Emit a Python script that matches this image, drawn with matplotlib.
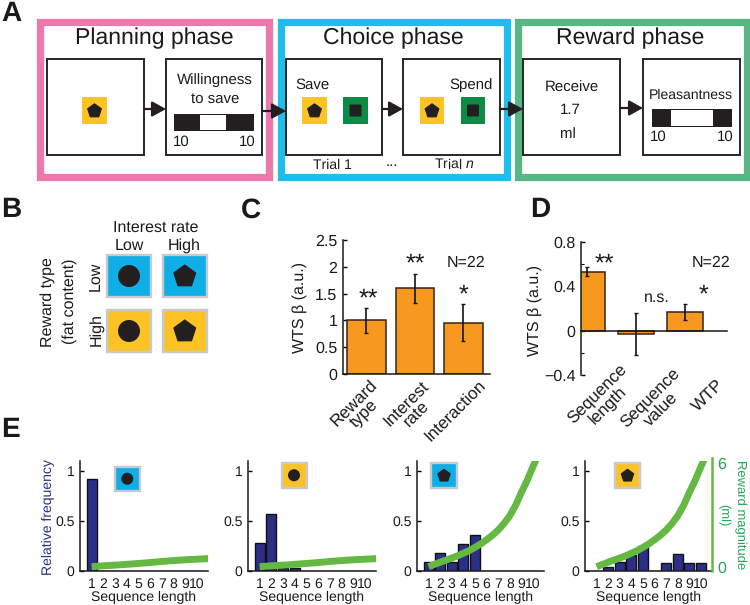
#!/usr/bin/env python3
"""Task schematic, regression betas and sequence-length histograms."""
import matplotlib
matplotlib.use("Agg")
import matplotlib.pyplot as plt
from matplotlib.patches import Rectangle, RegularPolygon, Circle, FancyBboxPatch

plt.rcParams.update({
    "font.family": ["Liberation Sans", "DejaVu Sans"],
    "mathtext.fontset": "custom",
    "mathtext.it": "Liberation Sans:italic",
    "mathtext.rm": "Liberation Sans",
    "text.hinting": "no_hinting",
    "text.hinting_factor": 1,
})

INK = "#231f20"
PINK = "#ee77ad"
SKY = "#1fbcee"
SEA = "#56b684"
YELLOW = "#fdc224"
BLUE = "#0eaee6"
DARKGREEN = "#0b8c44"
GREY = "#c6c9cf"
ORANGE = "#f7991f"
NAVY = "#2b2f86"
CURVE = "#65b943"
LABELGREEN = "#1fa652"

# panel C
c_labels = ["Reward\ntype", "Interest\nrate", "Interaction"]
c_values = [1.0, 1.6, 0.96]
c_err = [0.23, 0.27, 0.34]

# panel D
d_labels = ["Sequence\nlength", "Sequence\nvalue", "WTP"]
d_values = [0.53, -0.03, 0.17]
d_err = [0.04, 0.19, 0.075]

# panel E
seq_len = [1, 2, 3, 4, 5, 6, 7, 8, 9, 10]
freq_low_low = [0.92, 0, 0, 0, 0, 0, 0, 0, 0, 0]
freq_high_low = [0.28, 0.57, 0.03, 0.03, 0, 0, 0, 0, 0, 0]
freq_low_high = [0.09, 0.18, 0.09, 0.27, 0.36, 0, 0, 0, 0, 0]
freq_high_high = [0, 0.04, 0.09, 0.16, 0.25, 0, 0.08, 0.17, 0.08, 0.08]

# reward magnitude curves (ml)
curve_x_low = [1.0, 2.0, 3.0, 4.5, 6.0, 7.5, 9.0, 11.0]
curve_y_low = [0.0, 0.05, 0.09, 0.16, 0.24, 0.33, 0.40, 0.47]
curve_x_high = [1.0, 1.5, 2.0, 2.5, 3.0, 3.5, 4.0, 4.5, 5.0, 5.5, 6.0, 6.5, 7.0,
                7.5, 8.0, 8.5, 9.0, 9.5, 10.0, 10.3]
curve_y_high = [0.0, 0.13, 0.26, 0.38, 0.5, 0.63, 0.78, 0.93, 1.12, 1.32, 1.56, 1.82, 2.12,
                2.5, 2.95, 3.55, 4.3, 5.0, 5.8, 6.25]

fig = plt.figure(figsize=(7.5, 6.05), dpi=100)
bg = fig.add_axes([0, 0, 1, 1])
bg.set_xlim(0, 750)
bg.set_ylim(605, 0)
bg.axis("off")


def px_axes(left, top, right, bottom):
    ax = fig.add_axes([left / 750, 1 - bottom / 605, (right - left) / 750, (bottom - top) / 605])
    ax.patch.set_alpha(0)
    return ax


def rect(x0, y0, x1, y1, **kw):
    bg.add_patch(Rectangle((x0, y0), x1 - x0, y1 - y0, **kw))


def label(x, y, s, size=11, **kw):
    kw.setdefault("ha", "center")
    kw.setdefault("va", "center")
    kw.setdefault("color", "#1a1a1a")
    bg.text(x, y, s, fontsize=size, **kw)


def slanted(x, y, s):
    # bar names: anchor is the top right corner of the rotated block
    bg.text(x, y, s, fontsize=12.3, rotation=45, ha="right", va="top", ma="center",
            rotation_mode="anchor", linespacing=0.92, color="#1a1a1a")


def star(x, y, s):
    # the asterisk sits high in its line, so anchor on the baseline
    bg.text(x, y + 12, s, fontsize=18, ha="center", va="baseline", color="#1a1a1a")


def stim(x0, y0, x1, y1, color, shape, r, border=None):
    if border:
        rect(x0 - 1.5, y0 - 1.5, x1 + 1.5, y1 + 1.5, fc=color, ec=border, lw=1.7)
    else:
        rect(x0, y0, x1, y1, fc=color, ec="none")
    cx, cy = (x0 + x1) / 2, (y0 + y1) / 2
    if shape == "pent":
        bg.add_patch(RegularPolygon((cx, cy + 0.5), 5, radius=r, orientation=3.14159,
                                    fc=INK, ec=INK, lw=0.8, joinstyle="round"))
    elif shape == "circ":
        bg.add_patch(Circle((cx, cy), r, fc=INK, ec="none"))
    else:
        bg.add_patch(FancyBboxPatch((cx - r + 1, cy - r + 1), 2 * r - 2, 2 * r - 2,
                                    boxstyle="round,pad=1", fc=INK, ec="none"))


def arrow(x0, x1, y):
    bg.annotate("", xy=(x1, y), xytext=(x0, y),
                arrowprops=dict(arrowstyle="-|>,head_length=0.6,head_width=0.33", color=INK,
                                lw=1.6, mutation_scale=14, shrinkA=0, shrinkB=0))


def scale_bar(x0, x1, y0, y1, w0, w1):
    rect(x0, y0, x1, y1, fc=INK, ec="none")
    rect(w0, y0 + 1, w1, y1 - 1, fc="white", ec="none")


# panel A, frames then screens
for x0, x1, col in [(36, 272, PINK), (277, 510, SKY), (514, 750, SEA)]:
    rect(x0 + 3.5, 21.5, x1 - 3.5, 176.5, fc="white", ec=col, lw=5.2)
for x0, x1 in [(47, 144), (166, 262), (286, 382), (403, 500), (523, 620), (643, 740)]:
    rect(x0, 58.5, x1, 155, fc="white", ec="#262626", lw=1.4)
for x0, x1, y in [(144, 166, 109), (262, 286, 111), (382, 403, 109), (500, 523, 109), (620, 643, 108)]:
    arrow(x0, x1, y)

label(154, 38, "Planning phase", 16.5)
label(393, 38, "Choice phase", 16.5)
label(630, 38, "Reward phase", 16.5)

stim(82, 97, 107, 124, YELLOW, "pent", 7.2)
stim(302, 97, 327, 124, YELLOW, "pent", 7.2)
stim(343, 97, 368, 124, DARKGREEN, "sq", 6)
stim(420, 97, 444, 124, YELLOW, "pent", 7.2)
stim(461, 97, 485, 124, DARKGREEN, "sq", 6)

label(215, 80, "Willingness", 10.8)
label(215, 99, "to save")
scale_bar(174, 254, 114, 131, 200, 226)
label(181, 142, "10")
label(247, 142, "10")
label(312, 85, "Save")
label(332, 165, "Trial 1", 10.3)
label(392, 162, "...", 11)
label(454, 165, r"Trial $\mathit{n}$", 10.3)
label(471, 85, "Spend")
label(572, 88, "Receive")
label(570, 110, "1.7")
label(568, 134, "ml")
label(691, 95, "Pleasantness", 10.3)
scale_bar(652, 732, 109, 127, 671, 713)
label(658, 137, "10")
label(725, 137, "10")

# panel letters
for x, y, s in [(11, 14, "A"), (11, 210, "B"), (251, 210, "C"), (540, 210, "D"), (10, 430, "E")]:
    label(x, y, s, 20.5, fontweight="bold")

# panel B
label(156, 228, "Interest rate", 11.5)
label(129, 246, "Low", 11.5)
label(184, 246, "High", 11.5)
label(48, 302, "Reward type", 11.5, rotation=90)
label(70, 301, "(fat content)", 11.5, rotation=90)
label(95, 276, "Low", 11.5, rotation=90)
label(96, 330, "High", 11.5, rotation=90)
stim(108.5, 256.5, 149.5, 295.5, BLUE, "circ", 11, GREY)
stim(164, 256.5, 205.5, 295.5, BLUE, "pent", 11.5, GREY)
stim(108.5, 311.5, 149.5, 350.5, YELLOW, "circ", 11, GREY)
stim(164, 311.5, 205.5, 350.5, YELLOW, "pent", 11.5, GREY)


def bars(ax, values, err, width=0.8):
    xs = list(range(1, len(values) + 1))
    ax.bar(xs, values, width=width, color=ORANGE, edgecolor="#33261a", lw=1.1, zorder=2)
    ax.errorbar(xs, values, yerr=err, fmt="none", ecolor="#141414", elinewidth=1.2,
                capsize=1.3, capthick=1.0, zorder=3)
    ax.set_xticks(xs)
    ax.tick_params(axis="x", length=0, labelbottom=False)
    ax.tick_params(axis="y", direction="in", length=3, width=1, labelsize=11.5, pad=4,
                   labelcolor="#1a1a1a")
    ax.tick_params(axis="y", which="minor", direction="in", length=2, width=0.8)
    for s in ("top", "right"):
        ax.spines[s].set_visible(False)
    for s in ("left", "bottom"):
        ax.spines[s].set_linewidth(1.1)
        ax.spines[s].set_color("#1a1a1a")


# panel C
ax_c = px_axes(343, 240, 490, 374)
bars(ax_c, c_values, c_err)
ax_c.set_xlim(0.515, 3.55)
ax_c.set_ylim(0, 2.5)
ax_c.set_yticks([0, 0.5, 1, 1.5, 2, 2.5])
ax_c.set_yticklabels(["0", "0.5", "1", "1.5", "2", "2.5"])
label(300, 307, "WTS β (a.u.)", 11.5, rotation=90)
star(368, 293, "**")
star(415, 258, "**")
star(463, 289, "*")
label(466, 263, "N=22", 11.5)
for x, y, name in zip([369, 421, 478], [377, 378, 377], c_labels):
    slanted(x, y, name)

# panel D
ax_d = px_axes(581, 242, 727, 375)
bars(ax_d, d_values, d_err, width=0.74)
ax_d.set_xlim(0.87, 3.85)
ax_d.set_ylim(-0.4, 0.8)
ax_d.set_yticks([-0.4, 0, 0.4, 0.8])
ax_d.set_yticklabels(["\u22120.4", "0", "0.4", "0.8"])
ax_d.set_yticks([-0.2, 0.2, 0.6], minor=True)
ax_d.spines["bottom"].set_position(("data", 0))
label(535, 310, "WTS β (a.u.)", 11.5, rotation=90)
star(604, 258, "**")
label(657, 298, "n.s.", 11.5)
star(703, 289, "*")
label(711, 263, "N=22", 11.5)
for x, y, name in zip([619, 672, 716], [362, 366, 377], d_labels):
    slanted(x, y, name)

# panel E
panels = [
    (80, 208, freq_low_low, curve_x_low, curve_y_low),
    (248, 376, freq_high_low, curve_x_low, curve_y_low),
    (417, 544, freq_low_high, curve_x_high, curve_y_high),
    (585, 712, freq_high_high, curve_x_high, curve_y_high),
]
for i, (left, right, freq, cx, cy) in enumerate(panels):
    ax = px_axes(left, 461, right, 571)
    ax.bar(seq_len, freq, width=0.85, color=NAVY, edgecolor="#111111", lw=1.0, zorder=2)
    ax.set_xlim(0, 10.95)
    ax.set_ylim(0, 1.1)
    ax.set_xticks(seq_len)
    ax.set_yticks([0, 0.5, 1])
    ax.set_yticklabels(["0", "0.5", "1"])
    ax.tick_params(axis="x", length=0, pad=5, labelsize=9.8, labelcolor="#1a1a1a")
    ax.tick_params(axis="y", direction="in", length=3, width=1, pad=4, labelsize=10,
                   labelcolor="#1a1a1a")
    ax.set_xlabel("Sequence length", fontsize=10, labelpad=0, color="#1a1a1a")
    for s in ("top", "right"):
        ax.spines[s].set_visible(False)
    for s in ("left", "bottom"):
        ax.spines[s].set_linewidth(1.1)
        ax.spines[s].set_color("#1a1a1a")
    tw = ax.twinx()
    tw.patch.set_alpha(0)
    tw.set_ylim(-0.25, 6.12)
    tw.plot(cx, cy, color=CURVE, lw=5, solid_capstyle="butt", solid_joinstyle="round", zorder=5)
    for s in ("top", "left", "bottom"):
        tw.spines[s].set_visible(False)
    if i == 3:
        tw.set_yticks([0, 6])
        tw.tick_params(axis="y", length=0, pad=4, labelsize=11.5, labelcolor=LABELGREEN)
        tw.spines["right"].set_color(CURVE)
        tw.spines["right"].set_linewidth(1.8)
        tw.spines["right"].set_bounds(-0.25, 6.3)
    else:
        tw.set_yticks([])
        tw.spines["right"].set_visible(False)

label(48, 517, "Relative frequency", 10.3, rotation=90, color=NAVY)
label(740, 515, "Reward magnitude", 9.4, rotation=270, color=LABELGREEN)
label(723, 515, "(ml)", 9.4, rotation=270, color=LABELGREEN)
stim(116.5, 468.5, 138, 489, BLUE, "circ", 6, GREY)
stim(283, 464.5, 305, 486, YELLOW, "circ", 6, GREY)
stim(432.5, 464.5, 455.5, 486, BLUE, "pent", 6.5, GREY)
stim(616.5, 464.5, 638.5, 486, YELLOW, "pent", 6.5, GREY)

fig.savefig("out.png", dpi=100, facecolor="white")
